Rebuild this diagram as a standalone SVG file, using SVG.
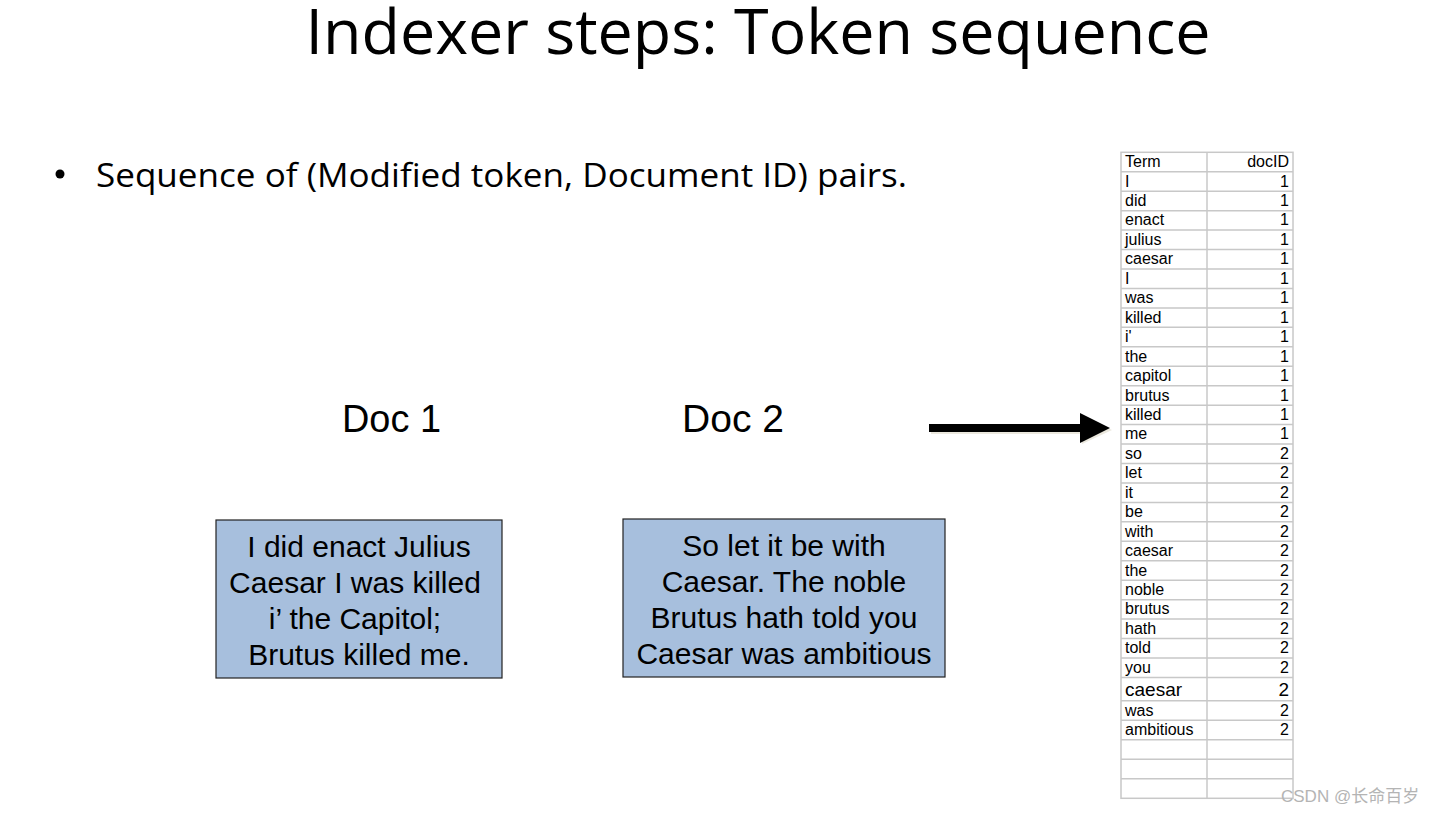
<svg xmlns="http://www.w3.org/2000/svg" width="1448" height="814" viewBox="0 0 1448 814">
<style>
.title{font-family:"Open Sans","Liberation Sans",sans-serif;font-size:62px;fill:#000}
.bullet{font-family:"Open Sans","Liberation Sans",sans-serif;font-size:33px;fill:#000}
.doc{font-family:"Liberation Sans",Arial,sans-serif;font-size:38px;fill:#000}
.box{fill:#a7bfdd;stroke:#222;stroke-width:1.2}
.bt{font-family:"Liberation Sans",Arial,sans-serif;font-size:30px;fill:#000;text-anchor:middle}
.grid{stroke:#c8c8c8;stroke-width:1.5;fill:none}
.tt{font-family:"Liberation Sans",Arial,sans-serif;font-size:16px;fill:#000}
.tn{font-family:"Liberation Sans",Arial,sans-serif;font-size:16px;fill:#000;text-anchor:end}
.wm{font-family:"Liberation Sans","Noto Sans CJK SC",sans-serif;font-size:17px;fill:#b4b4b4}
</style>
<rect width="1448" height="814" fill="#fff"/>
<text class="title" x="758" y="54" text-anchor="middle" textLength="905" lengthAdjust="spacingAndGlyphs">Indexer steps: Token sequence</text>
<g id="bullet">
<circle cx="60" cy="174" r="4.5" fill="#000"/>
<text class="bullet" x="96" y="187" textLength="811" lengthAdjust="spacingAndGlyphs">Sequence of (Modified token, Document ID) pairs.</text>
</g>
<g id="doc1-label"><text class="doc" x="342" y="432" textLength="99" lengthAdjust="spacingAndGlyphs">Doc 1</text></g>
<g id="doc2-label"><text class="doc" x="682" y="432" textLength="102" lengthAdjust="spacingAndGlyphs">Doc 2</text></g>
<g id="doc1">
<rect class="box" x="216" y="520" width="286" height="158"/>
<text class="bt" x="359" y="557">I did enact Julius</text>
<text class="bt" x="355" y="593">Caesar I was killed</text>
<text class="bt" x="355" y="629">i’ the Capitol;</text>
<text class="bt" x="359" y="665">Brutus killed me.</text>
</g>
<g id="doc2">
<rect class="box" x="623" y="519" width="322" height="158"/>
<text class="bt" x="784" y="556">So let it be with</text>
<text class="bt" x="784" y="592">Caesar. The noble</text>
<text class="bt" x="784" y="628">Brutus hath told you</text>
<text class="bt" x="784" y="664">Caesar was ambitious</text>
</g>
<g id="connectors">
<path d="M931 426 H1082 V416 L1112 430 L1082 444 V434 H931 Z" fill="#ddd8c8" opacity="0.6"/>
<path d="M929 424 H1080 V413 L1110 428 L1080 443 V432 H929 Z" fill="#000"/>
</g>
<g id="table">
<rect class="grid" x="1121" y="152.3" width="172" height="646"/>
<line class="grid" x1="1207" y1="152.3" x2="1207" y2="798.3"/>
<path class="grid" d="M1121 171.75H1293M1121 191.2H1293M1121 210.65H1293M1121 230.1H1293M1121 249.55H1293M1121 269H1293M1121 288.45H1293M1121 307.9H1293M1121 327.35H1293M1121 346.8H1293M1121 366.25H1293M1121 385.7H1293M1121 405.15H1293M1121 424.6H1293M1121 444.05H1293M1121 463.5H1293M1121 482.95H1293M1121 502.4H1293M1121 521.85H1293M1121 541.3H1293M1121 560.75H1293M1121 580.2H1293M1121 599.65H1293M1121 619.1H1293M1121 638.55H1293M1121 658H1293M1121 677.45H1293M1121 700.7H1293M1121 720.2H1293M1121 739.7H1293M1121 759.2H1293M1121 778.7H1293"/>
<text class="tt" x="1125" y="167">Term</text><text class="tn" x="1289" y="167">docID</text>
<text class="tt" x="1125" y="186.5">I</text><text class="tn" x="1289" y="186.5">1</text>
<text class="tt" x="1125" y="206">did</text><text class="tn" x="1289" y="206">1</text>
<text class="tt" x="1125" y="225.4">enact</text><text class="tn" x="1289" y="225.4">1</text>
<text class="tt" x="1125" y="244.9">julius</text><text class="tn" x="1289" y="244.9">1</text>
<text class="tt" x="1125" y="264.3">caesar</text><text class="tn" x="1289" y="264.3">1</text>
<text class="tt" x="1125" y="283.8">I</text><text class="tn" x="1289" y="283.8">1</text>
<text class="tt" x="1125" y="303.2">was</text><text class="tn" x="1289" y="303.2">1</text>
<text class="tt" x="1125" y="322.7">killed</text><text class="tn" x="1289" y="322.7">1</text>
<text class="tt" x="1125" y="342.1">i'</text><text class="tn" x="1289" y="342.1">1</text>
<text class="tt" x="1125" y="361.6">the</text><text class="tn" x="1289" y="361.6">1</text>
<text class="tt" x="1125" y="381">capitol</text><text class="tn" x="1289" y="381">1</text>
<text class="tt" x="1125" y="400.5">brutus</text><text class="tn" x="1289" y="400.5">1</text>
<text class="tt" x="1125" y="419.9">killed</text><text class="tn" x="1289" y="419.9">1</text>
<text class="tt" x="1125" y="439.4">me</text><text class="tn" x="1289" y="439.4">1</text>
<text class="tt" x="1125" y="458.8">so</text><text class="tn" x="1289" y="458.8">2</text>
<text class="tt" x="1125" y="478.3">let</text><text class="tn" x="1289" y="478.3">2</text>
<text class="tt" x="1125" y="497.7">it</text><text class="tn" x="1289" y="497.7">2</text>
<text class="tt" x="1125" y="517.2">be</text><text class="tn" x="1289" y="517.2">2</text>
<text class="tt" x="1125" y="536.6">with</text><text class="tn" x="1289" y="536.6">2</text>
<text class="tt" x="1125" y="556.1">caesar</text><text class="tn" x="1289" y="556.1">2</text>
<text class="tt" x="1125" y="575.5">the</text><text class="tn" x="1289" y="575.5">2</text>
<text class="tt" x="1125" y="595">noble</text><text class="tn" x="1289" y="595">2</text>
<text class="tt" x="1125" y="614.4">brutus</text><text class="tn" x="1289" y="614.4">2</text>
<text class="tt" x="1125" y="633.9">hath</text><text class="tn" x="1289" y="633.9">2</text>
<text class="tt" x="1125" y="653.3">told</text><text class="tn" x="1289" y="653.3">2</text>
<text class="tt" x="1125" y="672.8">you</text><text class="tn" x="1289" y="672.8">2</text>
<text class="tt" x="1125" y="695.5" style="font-size:19px">caesar</text><text class="tn" x="1289" y="695.5" style="font-size:19px">2</text>
<text class="tt" x="1125" y="715.5">was</text><text class="tn" x="1289" y="715.5">2</text>
<text class="tt" x="1125" y="735">ambitious</text><text class="tn" x="1289" y="735">2</text>
</g>
<text class="wm" x="1281" y="802">CSDN @长命百岁</text>
</svg>
